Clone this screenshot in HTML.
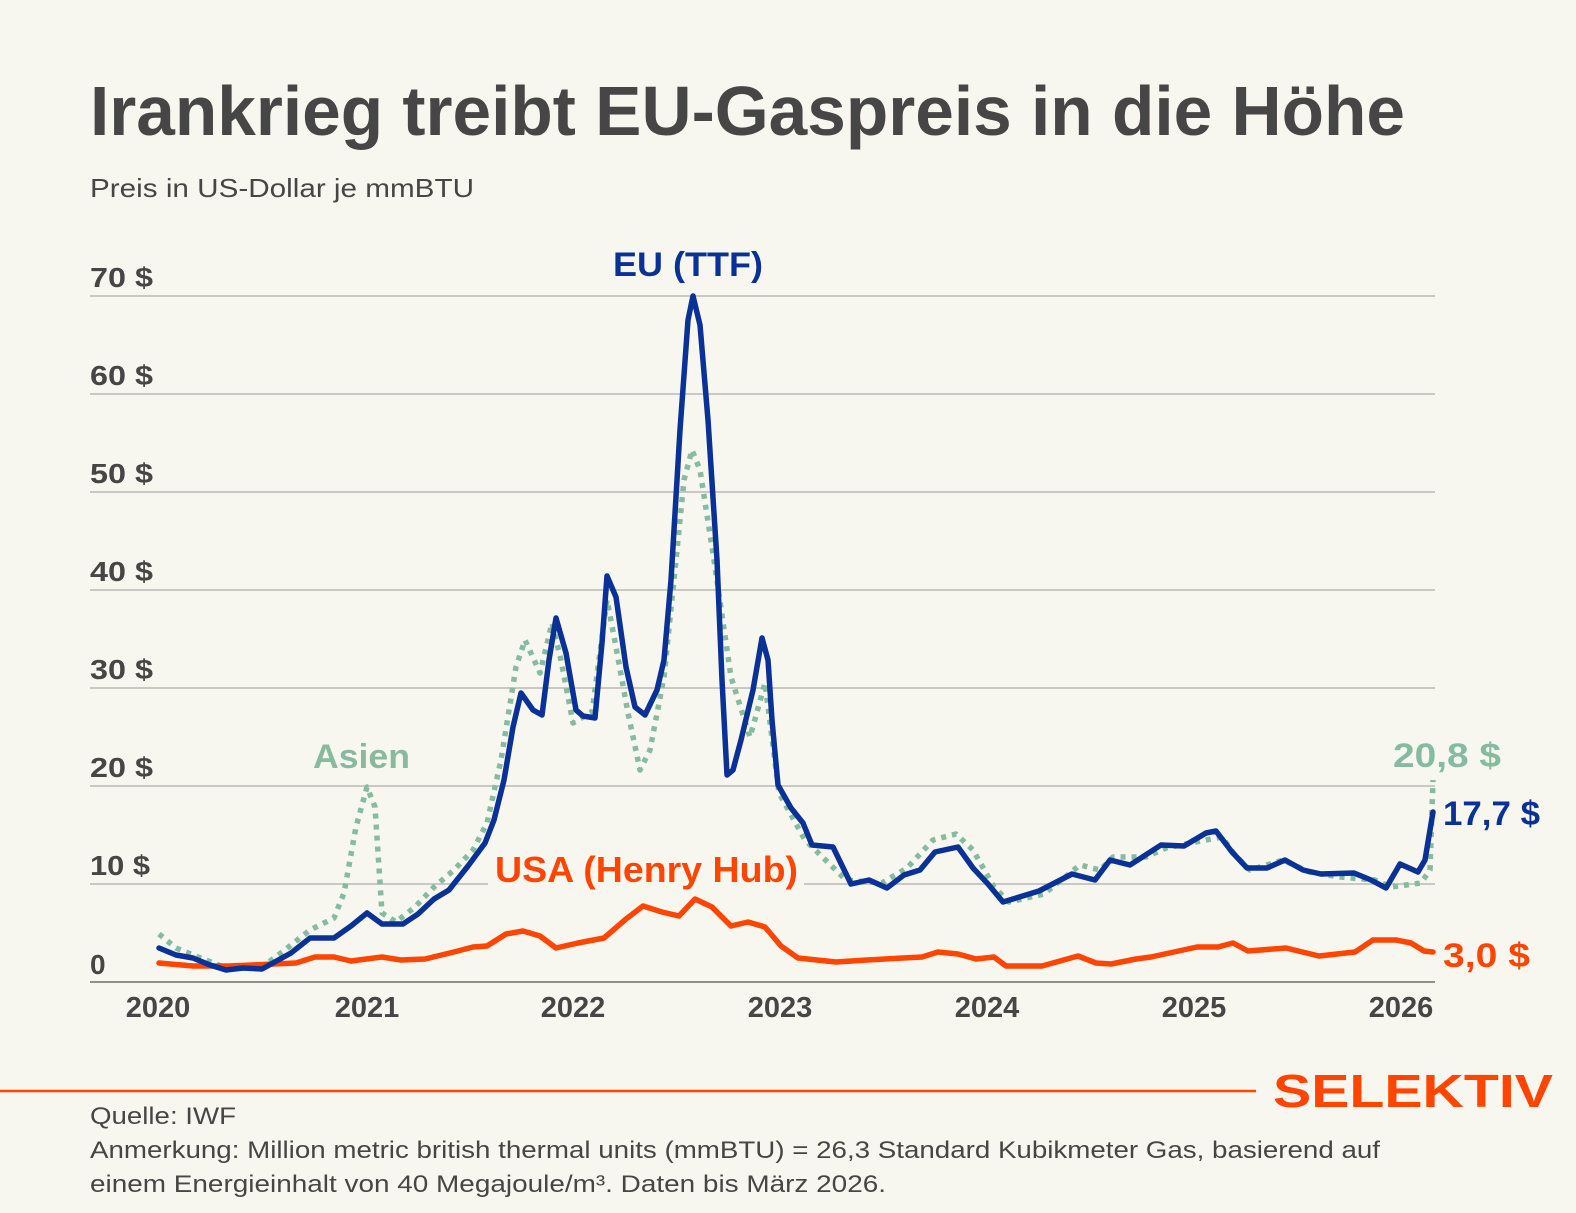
<!DOCTYPE html>
<html><head><meta charset="utf-8"><style>
html,body{margin:0;padding:0;background:#f8f7ef;}
svg{display:block;}
text{font-family:"Liberation Sans",sans-serif;}
</style></head><body>
<svg width="1576" height="1213" viewBox="0 0 1576 1213" xmlns="http://www.w3.org/2000/svg">
<rect width="1576" height="1213" fill="#f8f7ef"/>
<text x="90" y="135" font-size="70" font-weight="bold" fill="#464646" textLength="1315" lengthAdjust="spacingAndGlyphs">Irankrieg treibt EU-Gaspreis in die Höhe</text>
<text x="90" y="197" font-size="26" fill="#464646" textLength="384" lengthAdjust="spacingAndGlyphs">Preis in US-Dollar je mmBTU</text>
<g stroke="#b9b9b5" stroke-width="1.5">
<line x1="90" y1="296" x2="1435" y2="296"/><line x1="90" y1="394" x2="1435" y2="394"/>
<line x1="90" y1="492" x2="1435" y2="492"/><line x1="90" y1="590" x2="1435" y2="590"/>
<line x1="90" y1="688" x2="1435" y2="688"/><line x1="90" y1="786" x2="1435" y2="786"/>
<line x1="90" y1="884" x2="1435" y2="884"/>
</g>
<line x1="90" y1="982" x2="1435" y2="982" stroke="#8f8f8c" stroke-width="2"/>
<g font-size="28" font-weight="bold" fill="#464646">
<text x="90" y="287" textLength="63" lengthAdjust="spacingAndGlyphs">70 $</text><text x="90" y="385" textLength="63" lengthAdjust="spacingAndGlyphs">60 $</text><text x="90" y="483" textLength="63" lengthAdjust="spacingAndGlyphs">50 $</text>
<text x="90" y="581" textLength="63" lengthAdjust="spacingAndGlyphs">40 $</text><text x="90" y="679" textLength="63" lengthAdjust="spacingAndGlyphs">30 $</text><text x="90" y="777" textLength="63" lengthAdjust="spacingAndGlyphs">20 $</text>
<text x="90" y="875" textLength="60" lengthAdjust="spacingAndGlyphs">10 $</text><text x="90" y="974">0</text>
</g>
<g font-size="29" font-weight="bold" fill="#464646" text-anchor="middle">
<text x="158" y="1017">2020</text><text x="367" y="1017">2021</text><text x="573" y="1017">2022</text>
<text x="780" y="1017">2023</text><text x="987" y="1017">2024</text><text x="1194" y="1017">2025</text><text x="1401" y="1017">2026</text>
</g>
<rect x="488" y="845" width="316" height="42" fill="#f8f7ef"/>
<polyline fill="none" stroke="#86bb9e" stroke-width="5.5" stroke-dasharray="5,6" stroke-linejoin="round" points="159,934 176,948 193,955 226,968 262,967 281,953 310,930 334,918 344,893 356,827 367,787 375,807 382,913 396,922 415,907 434,887 454,870 473,850 487,823 501,760 516,667 525,640 540,673 552,623 561,660 573,723 592,712 607,600 616,647 628,713 640,770 650,750 664,677 676,560 684,480 692,450 700,470 714,560 731,677 750,737 765,683 779,793 805,840 846,880 882,883 907,868 933,840 956,834 973,850 994,887 1009,902 1044,894 1080,865 1100,870 1113,857 1146,857 1166,848 1206,840 1222,837 1235,855 1250,870 1283,860 1309,872 1340,877 1375,880 1391,887 1421,883 1430,870 1433,780"/>
<polyline fill="none" stroke="#ff4500" stroke-width="5.5" stroke-linejoin="round" stroke-linecap="round" points="159,963 193,966 229,966 296,963 315,957 334,957 351,961 382,957 401,960 425,959 454,952 473,947 487,946 506,934 523,931 540,936 556,948 578,943 604,938 626,919 643,906 662,912 679,916 695,899 712,907 731,926 748,922 765,927 781,946 798,958 817,960 836,962 867,960 922,957 938,952 958,954 976,959 994,957 1006,966 1042,966 1078,956 1096,963 1111,964 1136,959 1151,957 1197,947 1218,947 1233,943 1248,951 1286,948 1319,956 1355,952 1373,940 1396,940 1411,943 1424,951 1433,952"/>
<polyline fill="none" stroke="#0a3296" stroke-width="5.5" stroke-linejoin="round" stroke-linecap="round" points="159,948 176,955 193,958 210,965 226,970 243,968 262,969 291,953 310,938 334,938 351,926 367,913 382,924 403,924 418,914 434,899 449,890 468,866 485,843 494,820 504,780 513,727 521,693 533,710 542,715 549,660 556,618 566,653 576,710 583,716 595,718 602,643 607,576 616,597 626,667 635,707 645,715 657,690 664,660 671,580 680,430 688,320 693,296 700,325 708,420 717,560 722,680 727,775 733,770 741,740 753,690 762,638 768,660 772,720 778,785 791,808 803,823 812,845 833,847 851,884 869,880 887,888 904,875 920,870 935,852 958,847 973,868 988,884 1003,902 1039,891 1072,874 1095,880 1110,860 1130,865 1161,845 1184,846 1206,833 1216,831 1232,852 1247,868 1267,868 1285,860 1303,870 1321,874 1354,873 1371,880 1386,888 1400,864 1418,872 1425,860 1433,812"/>
<text x="688" y="276" font-size="34" font-weight="bold" fill="#0a3296" text-anchor="middle" textLength="150" lengthAdjust="spacingAndGlyphs">EU (TTF)</text>
<text x="313" y="768" font-size="34" font-weight="bold" fill="#86bb9e" textLength="97" lengthAdjust="spacingAndGlyphs">Asien</text>
<text x="495" y="882" font-size="36" font-weight="bold" fill="#ff4500" textLength="303" lengthAdjust="spacingAndGlyphs">USA (Henry Hub)</text>
<text x="1393" y="767" font-size="34" font-weight="bold" fill="#86bb9e" textLength="108" lengthAdjust="spacingAndGlyphs">20,8 $</text>
<text x="1443" y="825" font-size="34" font-weight="bold" fill="#0a3296" textLength="97" lengthAdjust="spacingAndGlyphs">17,7 $</text>
<text x="1443" y="967" font-size="34" font-weight="bold" fill="#ff4500" textLength="87" lengthAdjust="spacingAndGlyphs">3,0 $</text>
<line x1="0" y1="1091" x2="1256" y2="1091" stroke="#ff4500" stroke-width="2.5"/>
<text x="1273" y="1107" font-size="46" font-weight="bold" fill="#ff4500" textLength="280" lengthAdjust="spacingAndGlyphs">SELEKTIV</text>
<g font-size="24" fill="#464646">
<text x="90" y="1124" textLength="146" lengthAdjust="spacingAndGlyphs">Quelle: IWF</text>
<text x="90" y="1158" textLength="1290" lengthAdjust="spacingAndGlyphs">Anmerkung: Million metric british thermal units (mmBTU) = 26,3 Standard Kubikmeter Gas, basierend auf</text>
<text x="90" y="1192" textLength="796" lengthAdjust="spacingAndGlyphs">einem Energieinhalt von 40 Megajoule/m³. Daten bis März 2026.</text>
</g>
</svg>
</body></html>
